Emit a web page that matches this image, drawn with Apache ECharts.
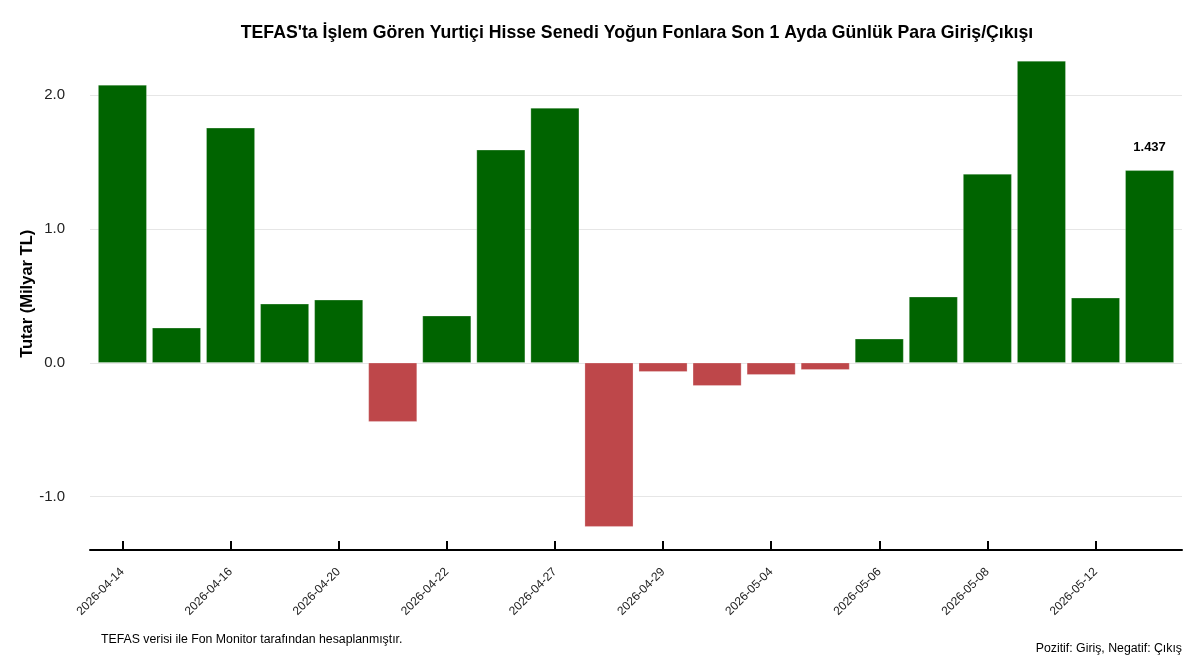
<!DOCTYPE html>
<html>
<head>
<meta charset="utf-8">
<script src="https://cdn.jsdelivr.net/npm/echarts@6/dist/echarts.min.js"></script>
<style>
  html, body { margin: 0; padding: 0; background: #fff; }
  #chart { width: 1200px; height: 667px; }
</style>
</head>
<body>
<div id="chart"></div>
<script>
var dates = ['2026-04-14', '2026-04-15', '2026-04-16', '2026-04-17', '2026-04-20',
    '2026-04-21', '2026-04-22', '2026-04-24', '2026-04-27', '2026-04-28',
    '2026-04-29', '2026-04-30', '2026-05-04', '2026-05-05', '2026-05-06',
    '2026-05-07', '2026-05-08', '2026-05-11', '2026-05-12', '2026-05-13'];
var flows = [2.075, 0.261, 1.754, 0.440, 0.470, -0.440, 0.351, 1.590, 1.903, -1.224,
    -0.067, -0.172, -0.090, -0.052, 0.179, 0.493, 1.410, 2.254, 0.485, 1.437];
var tickIdx = [0, 2, 4, 6, 8, 10, 12, 14, 16, 18];
var yTicks = [-1, 0, 1, 2];

var GREEN = '#006400', RED = '#BE474A';
var font = '"Liberation Sans", Arial, sans-serif';

var chart = echarts.init(document.getElementById('chart'));

var barData = flows.map(function (v, i) {
    var item = {value: [i, v]};
    if (i === flows.length - 1) {
        // sadece son gün etiketli
        item.label = {show: true};
    }
    return item;
});

chart.setOption({
    animation: false,
    title: {
        text: "TEFAS'ta İşlem Gören Yurtiçi Hisse Senedi Yoğun Fonlara Son 1 Ayda Günlük Para Giriş/Çıkışı",
        left: 632, top: 19, textAlign: 'center',
        textStyle: {fontFamily: font, fontSize: 17.7, fontWeight: 'bold', color: '#000'}
    },
    grid: {left: 90, right: 18, top: 37.6, bottom: 117},
    xAxis: {
        type: 'value', min: -0.6, max: 19.6,
        splitLine: {show: false},
        axisLine: {show: true, onZero: false, lineStyle: {color: '#000', width: 2}},
        axisTick: {show: true, inside: true, length: 9, customValues: tickIdx,
            lineStyle: {color: '#000', width: 2}},
        axisLabel: {customValues: tickIdx, rotate: 45, margin: 20,
            fontFamily: font, fontSize: 12, color: '#222',
            formatter: function (v) { return dates[v]; }}
    },
    yAxis: {
        type: 'value', min: -1.398, max: 2.428,
        name: 'Tutar (Milyar TL)', nameLocation: 'middle', nameGap: 54,
        nameMoveOverlap: false,
        nameTextStyle: {fontFamily: font, fontSize: 16.5, fontWeight: 'bold', color: '#000'},
        splitLine: {show: false},
        axisLine: {show: false},
        axisTick: {show: false},
        axisLabel: {customValues: yTicks, margin: 25, fontFamily: font, fontSize: 15, color: '#222',
            formatter: function (v) { return v.toFixed(1); }}
    },
    series: [{
        type: 'bar',
        barWidth: 48.6,
        data: barData,
        itemStyle: {
            borderColor: 'rgba(255,255,255,0.5)', borderWidth: 0.5,
            color: function (p) { return p.value[1] >= 0 ? GREEN : RED; }
        },
        label: {show: false, position: 'top', distance: 16,
            fontFamily: font, fontSize: 13, fontWeight: 'bold', color: '#000',
            formatter: function (p) { return p.value[1].toFixed(3); }},
        markLine: {
            silent: true, symbol: 'none', z: 0,
            label: {show: false},
            lineStyle: {color: '#e6e6e6', width: 1, type: 'solid'},
            data: yTicks.map(function (t) { return {yAxis: t}; })
        }
    }],
    graphic: [
        {type: 'text', left: 101, top: 634,
            style: {text: 'TEFAS verisi ile Fon Monitor tarafından hesaplanmıştır.',
                font: '12.3px ' + font, fill: '#000'}},
        {type: 'text', right: 18, top: 643,
            style: {text: 'Pozitif: Giriş, Negatif: Çıkış', font: '12.3px ' + font, fill: '#000'}}
    ]
});
</script>
</body>
</html>
